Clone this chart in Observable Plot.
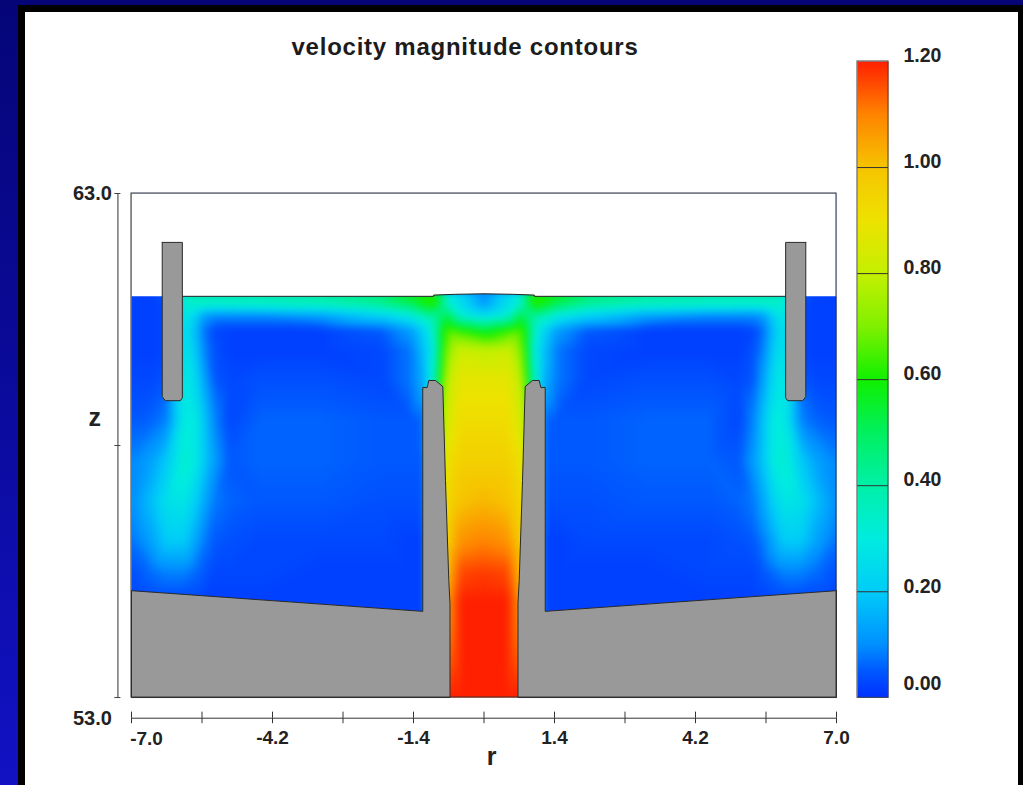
<!DOCTYPE html>
<html>
<head>
<meta charset="utf-8">
<script src="https://cdn.jsdelivr.net/npm/d3@7"></script>
<script src="https://cdn.jsdelivr.net/npm/@observablehq/plot@0.6"></script>
<style>
html,body{margin:0;padding:0;width:1023px;height:785px;overflow:hidden;background:linear-gradient(#050578,#0a0a98 45%,#1212c4);}
#panel{position:absolute;left:18px;top:5px;width:993px;height:780px;background:#fff;border:solid #000;border-width:7px 5px 0 7px;}
#title{position:absolute;left:265px;width:400px;top:33px;text-align:center;font:bold 24px "Liberation Sans",sans-serif;letter-spacing:.75px;white-space:nowrap;color:#1c1c1c;}
.layer{position:absolute;left:0;top:0;}
svg{background:transparent!important;}
</style>
</head>
<body>
<div id="panel"></div>
<div id="title">velocity magnitude contours</div>
<div id="main" class="layer"></div>
<div id="bar" class="layer"></div>
<script>
// radial stations (one half, mirrored by the axisymmetric geometry)
const rStations = [7.0,6.6,6.3,5.95,5.75,5.55,5.35,5.05,4.45,3.25,2.05,1.45,1.2,1.0,0.82,0.68,0.45,0];
// axial stations and velocity magnitude
const zStations = [61.05,60.8,60.58,60.28,59.88,59.29,58.5,57.7,56.9,56.1,55.5,54.92,53];
const velocityRows = [
  [.02,.02,.05,.36,.38,.40,.40,.40,.40,.42,.48,.60,.62,.62,.45,.30,.22,.10],
  [.02,.02,.03,.32,.33,.33,.33,.33,.34,.36,.42,.50,.58,.62,.45,.32,.25,.12],
  [.02,.02,.03,.30,.22,.12,.10,.10,.10,.13,.22,.30,.38,.42,.50,.50,.32,.25],
  [.02,.02,.03,.28,.18,.07,.03,.02,.02,.02,.05,.12,.22,.35,.60,.66,.62,.55],
  [.02,.02,.03,.28,.21,.09,.04,.02,.02,.02,.03,.08,.18,.30,.62,.74,.82,.80],
  [.03,.03,.05,.30,.25,.13,.05,.03,.04,.04,.03,.08,.15,.35,.68,.82,.88,.88],
  [.05,.06,.09,.30,.30,.19,.09,.03,.06,.06,.05,.05,.06,.50,.78,.86,.92,.92],
  [.09,.13,.20,.33,.30,.20,.12,.05,.06,.06,.05,.05,.05,.50,.85,.92,.96,.96],
  [.10,.18,.26,.28,.22,.14,.08,.06,.05,.05,.04,.04,.04,.50,.90,.96,1.0,1.02],
  [.07,.13,.20,.20,.14,.08,.05,.04,.03,.03,.03,.02,.02,.50,.90,1.0,1.08,1.10],
  [.04,.07,.09,.09,.07,.05,.03,.03,.03,.02,.02,.02,.02,.50,.90,1.05,1.16,1.17],
  [.02,.03,.03,.03,.03,.02,.02,.02,.02,.02,.02,.02,.02,.50,.95,1.10,1.20,1.20],
  [.02,.02,.02,.02,.02,.02,.02,.02,.02,.02,.02,.02,.02,.50,1.2,1.20,1.20,1.20]
];
// colour table
const colorStops = [0,0.05,0.1,0.2,0.3,0.4,0.5,0.6,0.7,0.8,0.9,1.0,1.1,1.2];
const colorValues = ["#0030ff","#0058ff","#0090ff","#00ccf8","#00ece0","#00f0a8","#00f060","#10f000","#80f000","#c4f000","#eee200","#f6c400","#ff8400","#ff2000"];
// solid geometry, left half as [r,z]
const baffle = [[-6.39,62.03],[-5.99,62.03],[-5.99,58.95],[-6.03,58.89],[-6.33,58.89],[-6.39,58.97]];
const centerBody = [[-7,55.12],[-1.216,54.71],[-1.216,59.15],[-1.128,59.15],[-1.097,59.29],[-0.963,59.29],[-0.818,59.17],[-0.765,57.31],[-0.699,55.32],[-0.675,54.87],[-0.675,53],[-7,53]];
const freeSurface = [[-5.99,60.96],[-1.0,60.96],[-1.0,60.985],[-0.57,61.0],[0,61.01],[0.57,61.0],[1.0,60.985],[1.0,60.96],[5.99,60.96]];
// axes
const rTicks = [-7,-5.6,-4.2,-2.8,-1.4,0,1.4,2.8,4.2,5.6,7];
const rLabels = [-4.2,-1.4,1.4,4.2,7];
const zTicks = [63,58,53];
const legendTicks = [0.2,0.4,0.6,0.8,1.0];
const legendLabels = [1.2,1.0,0.8,0.6,0.4,0.2];

const points = [];
zStations.forEach((z,i)=>rStations.forEach((r,j)=>{
  points.push({r:-r,z,v:velocityRows[i][j]});
  if(r!==0) points.push({r,z,v:velocityRows[i][j]});
}));
const mirror = a => a.map(([r,z])=>[-r,z]);
const close = a => [...a,a[0]];
const poly = (a,o) => Plot.line(close(a),{x:d=>d[0],y:d=>d[1],curve:"linear",...o});
const solid = {fill:"#999",stroke:"#2a2a2a",strokeWidth:1};
const font = {fontFamily:"Liberation Sans, sans-serif",fontWeight:"bold",fill:"#222"};
const airTop = [[-7,63],[7,63],[7,60.96],[5.99,60.96],...freeSurface.slice().reverse(),[-7,60.96]];
const color = {type:"linear",domain:colorStops,range:colorValues,clamp:true,interpolate:"rgb"};

const main = Plot.plot({
  width:1023,height:785,
  marginLeft:131,marginRight:187,marginTop:193,marginBottom:67.3,
  x:{domain:[-7,7],axis:null},
  y:{domain:[52.59,63],axis:null},
  color,
  style:{background:"transparent",overflow:"visible"},
  marks:[
    Plot.raster(points,{x:"r",y:"z",fill:"v",x1:-7,x2:7,y1:53,y2:63,interpolate:"barycentric",pixelSize:1,blur:3}),
    poly(airTop,{fill:"#fff",stroke:"none"}),
    Plot.line(freeSurface,{x:d=>d[0],y:d=>d[1],stroke:"#222",strokeWidth:1}),
    poly(baffle,solid),poly(mirror(baffle),solid),
    poly(centerBody,solid),poly(mirror(centerBody),solid),
    Plot.rect([0],{x1:-7,x2:7,y1:53,y2:63,fill:"none",stroke:"#333",strokeWidth:1}),
    // z axis
    Plot.ruleX([-7.27],{y1:53,y2:63,stroke:"#777",strokeWidth:1.5}),
    Plot.ruleY(zTicks,{x1:-7.33,x2:-7.21,stroke:"#444",strokeWidth:1}),
    Plot.text([63],{x:-7.39,y:d=>d,text:d=>d.toFixed(1),textAnchor:"end",fontSize:20,...font}),
    Plot.text([53],{x:-7.39,y:d=>d,text:d=>d.toFixed(1),textAnchor:"end",fontSize:20,dy:21,...font}),
    Plot.text(["z"],{x:-7.73,y:58.55,fontSize:25,...font}),
    // r axis
    Plot.ruleY([52.59],{x1:-7,x2:7,stroke:"#333",strokeWidth:1}),
    Plot.ruleX(rTicks,{y1:52.59,y2:52.71,stroke:"#333",strokeWidth:1}),
    Plot.axisX({ticks:rTicks,label:null,tickSize:5.5,tickPadding:7,stroke:"#333",
      tickFormat:d=>rLabels.includes(d)?d.toFixed(1):"",fontSize:19,fontWeight:"bold",fontFamily:"Liberation Sans, sans-serif",fill:"#222"}),
    Plot.text([-7],{x:d=>d,y:52.59,text:d=>d.toFixed(1),dx:15,dy:21,fontSize:19,...font}),
    Plot.text(["r"],{x:0.15,y:52.59,dy:39,fontSize:25,...font})
  ]
});
document.getElementById("main").appendChild(main);

const bar = Plot.plot({
  width:1023,height:785,
  marginLeft:857,marginRight:135,marginTop:61,marginBottom:87.7,
  x:{domain:[0,1],axis:null},
  y:{domain:[0,1.2],axis:null},
  color,
  style:{background:"transparent",overflow:"visible"},
  marks:[
    Plot.raster({fill:(x,y)=>y,x1:0,x2:1,y1:0,y2:1.2,pixelSize:1}),
    Plot.ruleY(legendTicks,{stroke:"#333",strokeWidth:1}),
    Plot.rect([0],{x1:0,x2:1,y1:0,y2:1.2,fill:"none",stroke:"#444",strokeWidth:1}),
    Plot.text(legendLabels,{x:1,y:d=>d,text:d=>d.toFixed(2),textAnchor:"start",dx:15,dy:-5.5,fontSize:19.5,...font}),
    Plot.text([0],{x:1,y:d=>d,text:d=>d.toFixed(2),textAnchor:"start",dx:15,dy:-14.5,fontSize:19.5,...font})
  ]
});
document.getElementById("bar").appendChild(bar);
</script>
</body>
</html>
